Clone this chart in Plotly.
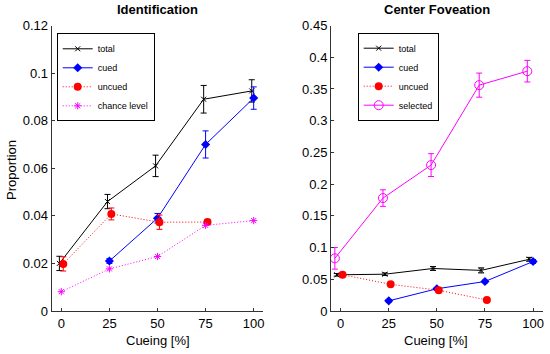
import plotly.graph_objects as go

cueing = [0, 25, 50, 75, 100]

# Identification panel
id_total = [0.020, 0.046, 0.061, 0.089, 0.0925]
id_total_err = [0.003, 0.003, 0.0045, 0.0058, 0.0047]
id_cued_x = [25, 50, 75, 100]
id_cued = [0.021, 0.039, 0.070, 0.0895]
id_cued_err = [0.001, 0.002, 0.0057, 0.0047]
id_uncued_x = [0, 25, 50, 75]
id_uncued = [0.0198, 0.0408, 0.0373, 0.0374]
id_uncued_err = [0.003, 0.0025, 0.003, 0.001]
id_chance = [0.0081, 0.0177, 0.0229, 0.036, 0.038]

# Center Foveation panel
cf_total = [0.057, 0.058, 0.067, 0.064, 0.0815]
cf_total_err = [0.002, 0.002, 0.003, 0.004, 0.003]
cf_cued_x = [25, 50, 75, 100]
cf_cued = [0.016, 0.035, 0.0465, 0.078]
cf_cued_err = [0.002, 0.002, 0.002, 0.003]
cf_uncued_x = [0, 25, 50, 75]
cf_uncued = [0.057, 0.042, 0.0327, 0.0174]
cf_selected = [0.083, 0.178, 0.230, 0.356, 0.378]
cf_selected_err = [0.017, 0.013, 0.018, 0.019, 0.017]

def shift(xs, d):
    return [x + d for x in xs]

FONT = "Liberation Sans, Arial, sans-serif"
DOT = "1px,2px"
fig = go.Figure()

def eb(arr, color):
    return dict(type="data", array=arr, visible=True, color=color, thickness=1, width=3)

# ---- left panel
fig.add_trace(go.Scatter(x=shift(cueing, -1), y=id_total, mode="lines+markers", name="total",
    line=dict(color="black", width=1), marker=dict(symbol="x-thin-open", size=5, line=dict(color="black", width=1)),
    error_y=eb(id_total_err, "black"), xaxis="x", yaxis="y", legend="legend"))
fig.add_trace(go.Scatter(x=id_cued_x, y=id_cued, mode="lines+markers", name="cued",
    line=dict(color="blue", width=1), marker=dict(symbol="diamond", size=7, color="blue"),
    error_y=eb(id_cued_err, "blue"), xaxis="x", yaxis="y", legend="legend"))
fig.add_trace(go.Scatter(x=shift(id_uncued_x, 1), y=id_uncued, mode="lines+markers", name="uncued",
    line=dict(color="red", width=1, dash=DOT), marker=dict(symbol="circle", size=8, color="red"),
    error_y=eb(id_uncued_err, "red"), xaxis="x", yaxis="y", legend="legend"))
fig.add_trace(go.Scatter(x=cueing, y=id_chance, mode="lines+markers", name="chance level",
    line=dict(color="magenta", width=1, dash=DOT),
    marker=dict(symbol="asterisk-open", size=6, line=dict(color="magenta", width=1)),
    xaxis="x", yaxis="y", legend="legend"))

# ---- right panel
fig.add_trace(go.Scatter(x=shift(cueing, -2), y=cf_total, mode="lines+markers", name="total",
    line=dict(color="black", width=1), marker=dict(symbol="x-thin-open", size=5, line=dict(color="black", width=1)),
    error_y=eb(cf_total_err, "black"), xaxis="x2", yaxis="y2", legend="legend2"))
fig.add_trace(go.Scatter(x=cf_cued_x, y=cf_cued, mode="lines+markers", name="cued",
    line=dict(color="blue", width=1), marker=dict(symbol="diamond", size=7, color="blue"),
    error_y=eb(cf_cued_err, "blue"), xaxis="x2", yaxis="y2", legend="legend2"))
fig.add_trace(go.Scatter(x=shift(cf_uncued_x, 1), y=cf_uncued, mode="lines+markers", name="uncued",
    line=dict(color="red", width=1, dash=DOT), marker=dict(symbol="circle", size=8, color="red"),
    xaxis="x2", yaxis="y2", legend="legend2"))
fig.add_trace(go.Scatter(x=shift(cueing, -3), y=cf_selected, mode="lines+markers", name="selected",
    line=dict(color="magenta", width=1),
    marker=dict(symbol="circle-open", size=9, line=dict(color="magenta", width=1)),
    error_y=eb(cf_selected_err, "magenta"), xaxis="x2", yaxis="y2", legend="legend2"))

axis_common = dict(showline=True, linecolor="#333", linewidth=1, ticks="inside", ticklen=3,
                   tickcolor="#333", showgrid=False, zeroline=False, mirror=False, automargin=False,
                   tickfont=dict(family=FONT, size=13, color="black"))

W, H = 550, 354
y_dom = [1 - 311 / H, 1 - 25.5 / H]
legend_common = dict(xanchor="left", yanchor="top", bgcolor="white", bordercolor="black",
                     borderwidth=1, font=dict(family=FONT, size=9), tracegroupgap=0, itemwidth=30)

def ann(text, x, y, size=13, angle=0):
    return dict(text=text, x=x / W, y=1 - y / H, xref="paper", yref="paper", showarrow=False,
                font=dict(family=FONT, size=size, color="black"), xanchor="center",
                yanchor="middle", textangle=angle)

fig.update_layout(
    width=W, height=H, margin=dict(l=0, r=0, t=0, b=0, autoexpand=False),
    paper_bgcolor="white", plot_bgcolor="white", showlegend=True,
    font=dict(family=FONT, color="black"),
    xaxis=dict(domain=[51.7 / W, 263.3 / W], range=[-5, 105], tickvals=cueing, anchor="y",
               **axis_common),
    yaxis=dict(domain=y_dom, range=[0, 0.12], tickvals=[0, 0.02, 0.04, 0.06, 0.08, 0.1, 0.12],
               ticktext=["0", "0.02", "0.04", "0.06", "0.08", "0.1", "0.12"], anchor="x",
               **axis_common),
    xaxis2=dict(domain=[331 / W, 542.7 / W], range=[-5, 105], tickvals=cueing, anchor="y2",
                **axis_common),
    yaxis2=dict(domain=y_dom, range=[0, 0.45], tickvals=[0, 0.05, 0.1, 0.15, 0.2, 0.25, 0.3, 0.35, 0.4, 0.45],
                ticktext=["0", "0.05", "0.1", "0.15", "0.2", "0.25", "0.3", "0.35", "0.4", "0.45"],
                anchor="x2", **axis_common),
    legend=dict(x=56.7 / W, y=1 - 33.3 / H, **legend_common),
    legend2=dict(x=357.7 / W, y=1 - 32.7 / H, **legend_common),
    annotations=[
        ann("<b>Identification</b>", 157.5, 10),
        ann("<b>Center Foveation</b>", 436.8, 10),
        ann("Cueing [%]", 157.5, 340),
        ann("Cueing [%]", 436.5, 340),
        ann("Proportion", 11, 170, angle=-90),
    ],
)

fig.write_html("out.html", config={"displayModeBar": False},
               post_script="document.body.style.margin='0px';")
